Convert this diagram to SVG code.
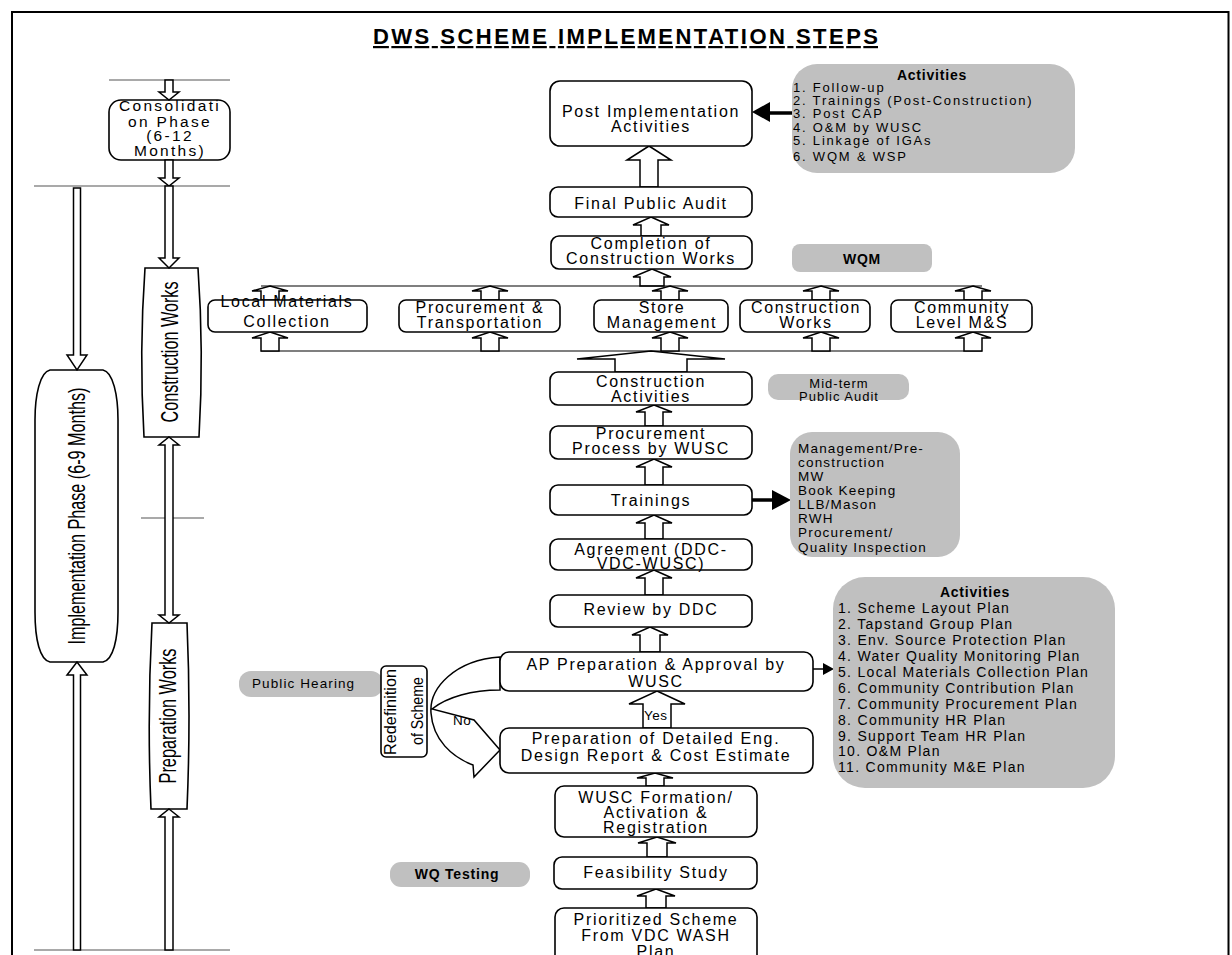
<svg xmlns="http://www.w3.org/2000/svg" width="1232" height="955" viewBox="0 0 1232 955">
<style>
text{font-family:"Liberation Sans",Arial,sans-serif;fill:#000}
.t{font-size:16px;letter-spacing:1.7px;text-anchor:middle}
.c{font-size:15.5px;letter-spacing:2.3px;text-anchor:middle}
.l{font-size:13px;letter-spacing:1.8px}
.l2{font-size:14px;letter-spacing:1.3px}
.l3{font-size:13.5px;letter-spacing:1.2px}
.b{font-weight:bold;font-size:14px;letter-spacing:0.8px;text-anchor:middle}
.r{font-size:24px;text-anchor:middle}
.box{fill:#fff;stroke:#000;stroke-width:1.6}
.gray{fill:#c0c0c0;stroke:none}
.arr{fill:#fff;stroke:#000;stroke-width:1.5;stroke-linejoin:miter}
.ln{stroke:#000;stroke-width:1.2;fill:none}
.lg{stroke:#555;stroke-width:1.2;fill:none}
.blk{fill:#000;stroke:none}
</style>
<rect width="1232" height="955" fill="#fff"/>
<path d="M12 960 V12 H1228.5 V960" fill="none" stroke="#000" stroke-width="2"/>
<text x="625.5" y="44" font-size="22" font-weight="bold" text-anchor="middle" textLength="505" lengthAdjust="spacing" text-decoration="underline">DWS SCHEME IMPLEMENTATION STEPS</text>

<g id="phase-lines">
<path class="lg" d="M109 80 H230 M34 186 H230 M141 518 H204 M34 950 H230"/>
</g>
<g id="consolidation">
<rect class="box" x="109" y="100" width="121" height="60" rx="12" stroke-width="1.2"/>
<text class="c" x="170" y="111">Consolidati</text>
<text class="c" x="170" y="127">on Phase</text>
<text class="c" x="170" y="141">(6-12</text>
<text class="c" x="170" y="156">Months)</text>
</g>
<g id="implementation">
<path class="box" stroke-width="1.2" d="M50 370 L103 370 C113 372 118 395 118 420 L118 612 C118 640 113 660 103 662 L50 662 C40 660 35 640 35 612 L35 420 C35 395 40 372 50 370 Z"/>
<text class="r" transform="translate(85 516) rotate(-90)" textLength="257" lengthAdjust="spacingAndGlyphs">Implementation Phase (6-9 Months)</text>
</g>
<g id="construction-works-phase">
<path class="box" stroke-width="1.2" d="M145 268 L198 268 Q204 352 199 437 L144 437 Q139 352 145 268 Z"/>
<text class="r" transform="translate(178 352) rotate(-90)" textLength="141" lengthAdjust="spacingAndGlyphs">Construction Works</text>
</g>
<g id="preparation-works-phase">
<path class="box" stroke-width="1.2" d="M152 623 L187 623 Q191 716 187 809 L151 809 Q147 716 152 623 Z"/>
<text class="r" transform="translate(176 716) rotate(-90)" textLength="135" lengthAdjust="spacingAndGlyphs">Preparation Works</text>
</g>

<g id="connectors">
<path class="arr" stroke-width="1.2" d="M165 80 L173 80 L173 92 L179 92 L169 100 L159 92 L165 92 Z"/>
<path class="arr" stroke-width="1.2" d="M165 160 L173 160 L173 178 L179 178 L169 186 L159 178 L165 178 Z"/>
<path class="arr" stroke-width="1.2" d="M165 186 L173 186 L173 258 L179 258 L169 268 L159 258 L165 258 Z"/>
<path class="arr" stroke-width="1.2" d="M169 437 L179 445 L173 445 L173 615 L179 615 L169 623 L159 615 L165 615 L165 445 L159 445 Z"/>
<path class="arr" stroke-width="1.2" d="M169 809 L179 817 L173 817 L173 950 L165 950 L165 817 L159 817 Z"/>
<path class="arr" stroke-width="1.2" d="M73.5 188 L80.5 188 L80.5 355 L87 355 L77 370 L67 355 L73.5 355 Z"/>
<path class="arr" stroke-width="1.2" d="M77 662 L87 675 L80.5 675 L80.5 950 L73.5 950 L73.5 675 L67 675 Z"/>
<path class="arr" d="M649 146 L671 160 L658 160 L658 187 L640 187 L640 160 L627 160 Z"/>
<path class="arr" d="M651 217 L669 225 L661 225 L661 236 L641 236 L641 225 L633 225 Z"/>
<path class="arr" d="M652 269 L671 277 L664 277 L664 286 L640 286 L640 277 L633 277 Z"/>
<path class="ln" d="M261 286 H982 M261 351 H982"/>
<path class="arr" d="M270 286 L288 291 L279 291 L279 300 L261 300 L261 291 L252 291 Z"/>
<path class="arr" d="M490 286 L508 291 L499 291 L499 300 L481 300 L481 291 L472 291 Z"/>
<path class="arr" d="M670 286 L688 291 L679 291 L679 300 L661 300 L661 291 L652 291 Z"/>
<path class="arr" d="M821 286 L839 291 L830 291 L830 300 L812 300 L812 291 L803 291 Z"/>
<path class="arr" d="M973 286 L991 291 L982 291 L982 300 L964 300 L964 291 L955 291 Z"/>
<path class="arr" d="M270 332 L288 338 L279 338 L279 351 L261 351 L261 338 L252 338 Z"/>
<path class="arr" d="M490 332 L508 338 L499 338 L499 351 L481 351 L481 338 L472 338 Z"/>
<path class="arr" d="M670 332 L688 338 L679 338 L679 351 L661 351 L661 338 L652 338 Z"/>
<path class="arr" d="M821 332 L839 338 L830 338 L830 351 L812 351 L812 338 L803 338 Z"/>
<path class="arr" d="M973 332 L991 338 L982 338 L982 351 L964 351 L964 338 L955 338 Z"/>
<path class="arr" d="M651 351 L725 359 L687 359 L687 372 L615 372 L615 359 L577 359 Z"/>
<path class="arr" d="M654 405 L672 412 L663 412 L663 426 L645 426 L645 412 L636 412 Z"/>
<path class="arr" d="M654 459 L672 467 L663 467 L663 485 L645 485 L645 467 L636 467 Z"/>
<path class="arr" d="M654 515 L672 523 L663 523 L663 539 L645 539 L645 523 L636 523 Z"/>
<path class="arr" d="M654 570 L672 578 L663 578 L663 595 L645 595 L645 578 L636 578 Z"/>
<path class="arr" d="M650 627 L668 635 L660 635 L660 652 L640 652 L640 635 L632 635 Z"/>
<path class="arr" d="M657 691 L685 704 L671 704 L671 728 L643 728 L643 704 L629 704 Z"/>
<path class="arr" d="M655 773 L673 778 L664 778 L664 786 L646 786 L646 778 L637 778 Z"/>
<path class="arr" d="M657 837 L676 843 L667 843 L667 857 L647 857 L647 843 L638 843 Z"/>
<path class="arr" d="M656 889 L675 896 L666 896 L666 908 L646 908 L646 896 L637 896 Z"/>
<path class="arr" d="M500 657 C455 660 429 688 431 713 C433 740 452 757 473 765 L474 777 L500 750 L474 720 L432 709 C447 697 472 690 500 690 Z"/>
<path d="M792 113 H766" stroke="#000" stroke-width="3.5"/>
<polygon class="blk" points="752,112 770,102 770,122"/>
<path d="M752 500 H776" stroke="#000" stroke-width="3.5"/>
<polygon class="blk" points="791,500 772,490 772,510"/>
<path d="M813 669 H826" stroke="#000" stroke-width="1.5"/>
<polygon class="blk" points="834,669 823,663 823,675"/>
<text x="453" y="725" font-size="13.5" letter-spacing="0.5">No</text>
<text x="644" y="720" font-size="13.5" letter-spacing="0.5">Yes</text>
</g>

<g id="post-implementation">
<rect class="box" x="550" y="81" width="202" height="65" rx="10"/>
<text class="t" x="651" y="117">Post Implementation</text>
<text class="t" x="651" y="132">Activities</text>
</g>
<g id="activities-post">
<rect class="gray" x="792" y="64" width="283" height="109" rx="25"/>
<text class="b" x="932" y="80">Activities</text>
<text class="l" x="793" y="92">1. Follow-up</text>
<text class="l" x="793" y="105">2. Trainings (Post-Construction)</text>
<text class="l" x="793" y="118">3. Post CAP</text>
<text class="l" x="793" y="132">4. O&amp;M by WUSC</text>
<text class="l" x="793" y="145">5. Linkage of IGAs</text>
<text class="l" x="793" y="161">6. WQM &amp; WSP</text>
</g>
<g id="final-public-audit">
<rect class="box" x="550" y="187" width="202" height="30" rx="8"/>
<text class="t" x="651" y="209">Final Public Audit</text>
</g>
<g id="completion">
<rect class="box" x="551" y="236" width="201" height="33" rx="8"/>
<text class="t" x="651" y="249">Completion of</text>
<text class="t" x="651" y="264">Construction Works</text>
</g>
<g id="wqm">
<rect class="gray" x="792" y="244" width="140" height="28" rx="8"/>
<text class="b" x="862" y="264">WQM</text>
</g>
<g id="local-materials">
<rect class="box" x="208" y="300" width="159" height="32" rx="7"/>
<text class="t" x="287" y="307">Local Materials</text>
<text class="t" x="287" y="327">Collection</text>
</g>
<g id="procurement-transportation">
<rect class="box" x="399" y="300" width="161" height="32" rx="7"/>
<text class="t" x="480" y="313">Procurement &amp;</text>
<text class="t" x="480" y="328">Transportation</text>
</g>
<g id="store-management">
<rect class="box" x="594" y="300" width="134" height="32" rx="7"/>
<text class="t" x="662" y="313">Store</text>
<text class="t" x="662" y="328">Management</text>
</g>
<g id="construction-works">
<rect class="box" x="740" y="300" width="130" height="32" rx="7"/>
<text class="t" x="806" y="313">Construction</text>
<text class="t" x="806" y="328">Works</text>
</g>
<g id="community-ms">
<rect class="box" x="891" y="300" width="141" height="32" rx="7"/>
<text class="t" x="962" y="313">Community</text>
<text class="t" x="962" y="328">Level M&amp;S</text>
</g>
<g id="construction-activities">
<rect class="box" x="550" y="372" width="202" height="33" rx="8"/>
<text class="t" x="651" y="387">Construction</text>
<text class="t" x="651" y="402">Activities</text>
</g>
<g id="midterm-audit">
<rect class="gray" x="768" y="374" width="141" height="26" rx="10"/>
<text x="839" y="388" font-size="13" letter-spacing="1" text-anchor="middle">Mid-term</text>
<text x="839" y="401" font-size="13" letter-spacing="1" text-anchor="middle">Public Audit</text>
</g>
<g id="procurement-process">
<rect class="box" x="550" y="426" width="202" height="33" rx="8"/>
<text class="t" x="651" y="439">Procurement</text>
<text class="t" x="651" y="454">Process by WUSC</text>
</g>
<g id="trainings">
<rect class="box" x="550" y="485" width="202" height="30" rx="8"/>
<text class="t" x="651" y="506">Trainings</text>
</g>
<g id="trainings-list">
<rect class="gray" x="790" y="432" width="170" height="125" rx="22"/>
<text class="l3" x="798" y="453">Management/Pre-</text>
<text class="l3" x="798" y="467">construction</text>
<text class="l3" x="798" y="481">MW</text>
<text class="l3" x="798" y="495">Book Keeping</text>
<text class="l3" x="798" y="509">LLB/Mason</text>
<text class="l3" x="798" y="523">RWH</text>
<text class="l3" x="798" y="537">Procurement/</text>
<text class="l3" x="798" y="552">Quality Inspection</text>
</g>
<g id="agreement">
<rect class="box" x="550" y="539" width="202" height="31" rx="8"/>
<text class="t" x="651" y="555">Agreement (DDC-</text>
<text class="t" x="651" y="569">VDC-WUSC)</text>
</g>
<g id="review-ddc">
<rect class="box" x="550" y="595" width="202" height="32" rx="8"/>
<text class="t" x="651" y="615">Review by DDC</text>
</g>
<g id="ap-preparation">
<rect class="box" x="500" y="652" width="313" height="39" rx="9"/>
<text class="t" x="656" y="670">AP Preparation &amp; Approval by</text>
<text class="t" x="656" y="687">WUSC</text>
</g>
<g id="activities-plan">
<rect class="gray" x="833" y="577" width="282" height="211" rx="32"/>
<text class="b" x="975" y="597">Activities</text>
<text class="l2" x="838" y="613">1. Scheme Layout Plan</text>
<text class="l2" x="838" y="629">2. Tapstand Group Plan</text>
<text class="l2" x="838" y="645">3. Env. Source Protection Plan</text>
<text class="l2" x="838" y="661">4. Water Quality Monitoring Plan</text>
<text class="l2" x="838" y="677">5. Local Materials Collection Plan</text>
<text class="l2" x="838" y="693">6. Community Contribution Plan</text>
<text class="l2" x="838" y="709">7. Community Procurement Plan</text>
<text class="l2" x="838" y="725">8. Community HR Plan</text>
<text class="l2" x="838" y="741">9. Support Team HR Plan</text>
<text class="l2" x="838" y="756">10. O&amp;M Plan</text>
<text class="l2" x="838" y="772">11. Community M&amp;E Plan</text>
</g>
<g id="public-hearing">
<rect class="gray" x="239" y="671" width="144" height="26" rx="12"/>
<text x="252" y="688" font-size="13.5" letter-spacing="1.1">Public Hearing</text>
</g>
<g id="redefinition">
<rect class="box" x="381" y="666" width="46" height="91" rx="5"/>
<text transform="translate(396 712) rotate(-90)" font-size="17" text-anchor="middle" textLength="86" lengthAdjust="spacingAndGlyphs">Redefinition</text>
<text transform="translate(423 711) rotate(-90)" font-size="17" text-anchor="middle" textLength="68" lengthAdjust="spacingAndGlyphs">of Scheme</text>
</g>
<g id="detailed-design">
<rect class="box" x="500" y="728" width="313" height="45" rx="9"/>
<text class="t" x="656" y="744">Preparation of Detailed Eng.</text>
<text class="t" x="656" y="761">Design Report &amp; Cost Estimate</text>
</g>
<g id="wusc-formation">
<rect class="box" x="555" y="786" width="202" height="51" rx="9"/>
<text class="t" x="656" y="803">WUSC Formation/</text>
<text class="t" x="656" y="818">Activation &amp;</text>
<text class="t" x="656" y="833">Registration</text>
</g>
<g id="feasibility">
<rect class="box" x="554" y="857" width="203" height="32" rx="8"/>
<text class="t" x="656" y="878">Feasibility Study</text>
</g>
<g id="wq-testing">
<rect class="gray" x="390" y="862" width="140" height="25" rx="11"/>
<text class="b" x="457" y="879">WQ Testing</text>
</g>
<g id="prioritized">
<rect class="box" x="555" y="908" width="202" height="62" rx="9"/>
<text class="t" x="656" y="925">Prioritized Scheme</text>
<text class="t" x="656" y="941">From VDC WASH</text>
<text class="t" x="656" y="957">Plan</text>
</g>
</svg>
